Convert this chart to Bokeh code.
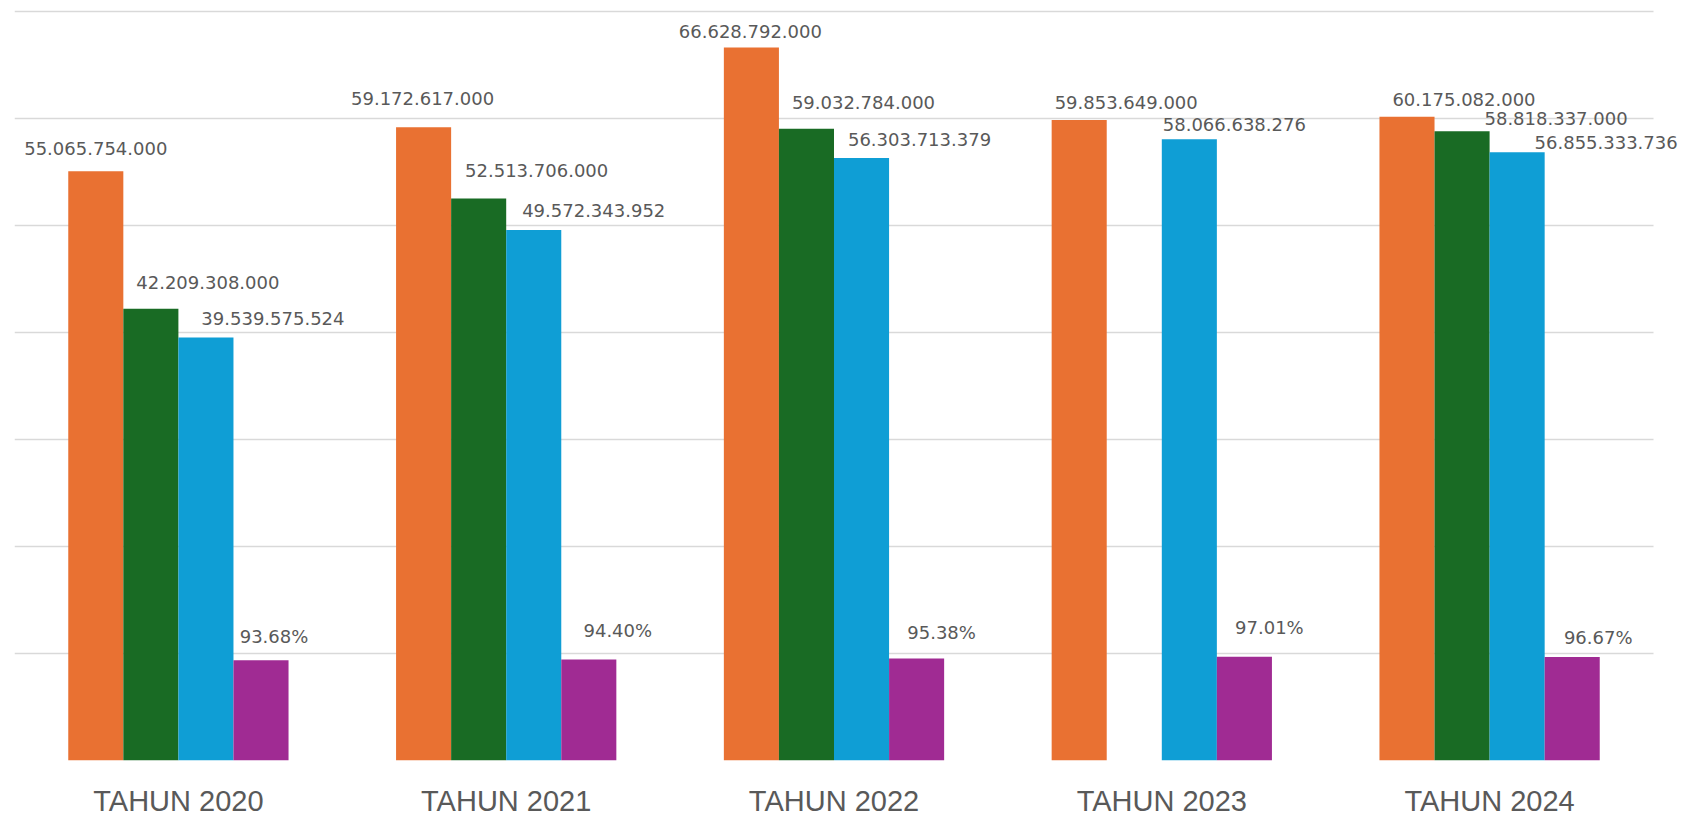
from bokeh.plotting import figure
from bokeh.models import ColumnDataSource, Range1d, FixedTicker, LabelSet
from bokeh.core.properties import value
from bokeh.embed import file_html
from bokeh.resources import INLINE

# ---- data ----
years = ["TAHUN 2020", "TAHUN 2021", "TAHUN 2022", "TAHUN 2023", "TAHUN 2024"]
anggaran = [55065754000, 59172617000, 66628792000, 59853649000, 60175082000]
target = [42209308000, 52513706000, 59032784000, None, 58818337000]
realisasi = [39539575524, 49572343952, 56303713379, 58066638276, 56855333736]
capaian_pct = [93.68, 94.40, 95.38, 97.01, 96.67]
grid_ticks = [0, 10e9, 20e9, 30e9, 40e9, 50e9, 60e9, 70e9]

# ---- style / layout ----
colors = ["#E97132", "#196B24", "#0F9ED5", "#A02B93"]
text_color = "#595959"
grid_color = "#D9D9D9"
bar_w = 0.168
offsets = [-1.5 * bar_w, -0.5 * bar_w, 0.5 * bar_w, 1.5 * bar_w]
# label nudges in screen px (dx, dy) per series per year
label_dx = [
    [0, -1, -1, 47, 57],
    [57, 58, 57, 0, 94],
    [67, 60, 58, 45, 89],
    [13, 29, 25, 25, 26],
]
label_dy = [
    [23, 29, 16, 18, 17],
    [26, 28, 26, 0, 13],
    [19, 20, 19, 15, 10],
    [24, 29, 26, 29, 20],
]

def fmt_num(v):
    return f"{v:,}".replace(",", ".")

n = len(years)
centers = [i + 0.5 for i in range(n)]
frame_w = 1669
unit_px = 1639 / n
x_end = frame_w / unit_px
frame_h = 751
px_per_unit_y = 749 / 70e9
y_end = frame_h / px_per_unit_y

p = figure(
    x_range=Range1d(0, x_end),
    y_range=Range1d(0, y_end),
    frame_width=frame_w, frame_height=frame_h,
    min_border_left=14, min_border_right=0, min_border_top=9, min_border_bottom=50,
    output_backend="svg", toolbar_location=None,
    outline_line_color=None,
)
p.extra_y_ranges = {"pct": Range1d(0, 7 * y_end / 70e9)}

pct_frac = [v / 100 for v in capaian_pct]
all_series = [anggaran, target, realisasi, pct_frac]

for i, vals in enumerate(all_series):
    xs = [c + offsets[i] for c in centers]
    tops = [float("nan") if v is None else v for v in vals]
    src = ColumnDataSource(dict(x=xs, top=tops))
    kw = dict(y_range_name="pct") if i == 3 else {}
    p.vbar(x="x", top="top", width=bar_w, source=src,
           fill_color=colors[i], line_color=None, **kw)

# labels
for i, vals in enumerate(all_series):
    xs, ys, txt, dxs, dys = [], [], [], [], []
    for j, v in enumerate(vals):
        if v is None:
            continue
        xs.append(centers[j] + offsets[i])
        ys.append(v)
        txt.append(fmt_num(v) if i < 3 else f"{capaian_pct[j]:.2f}%")
        dxs.append(label_dx[i][j])
        dys.append(label_dy[i][j])
    lsrc = ColumnDataSource(dict(x=xs, y=ys, t=txt, dx=dxs, dy=dys))
    ls = LabelSet(x="x", y="y", text="t",
                  x_offset="dx", y_offset="dy", source=lsrc,
                  text_align="center", text_baseline="middle",
                  text_font_size="18px", text_color=text_color,
                  text_font=value("DejaVu Sans"),
                  y_range_name=("pct" if i == 3 else "default"))
    p.add_layout(ls)

p.yaxis.visible = False
p.xgrid.visible = False
p.ygrid.ticker = FixedTicker(ticks=grid_ticks)
p.ygrid.grid_line_color = grid_color
p.ygrid.grid_line_width = 1.5
p.ygrid.cross_bounds = (0, n)

xa = p.xaxis[0]
xa.ticker = FixedTicker(ticks=centers)
xa.major_label_overrides = {c: y for c, y in zip(centers, years)}
xa.axis_line_color = None
xa.major_tick_line_color = None
xa.minor_tick_line_color = None
xa.major_label_text_font_size = "29px"
xa.major_label_text_font = "Liberation Sans"
xa.major_label_text_color = text_color
xa.major_label_standoff = 18

open("out.html", "w").write(file_html(p, INLINE))
